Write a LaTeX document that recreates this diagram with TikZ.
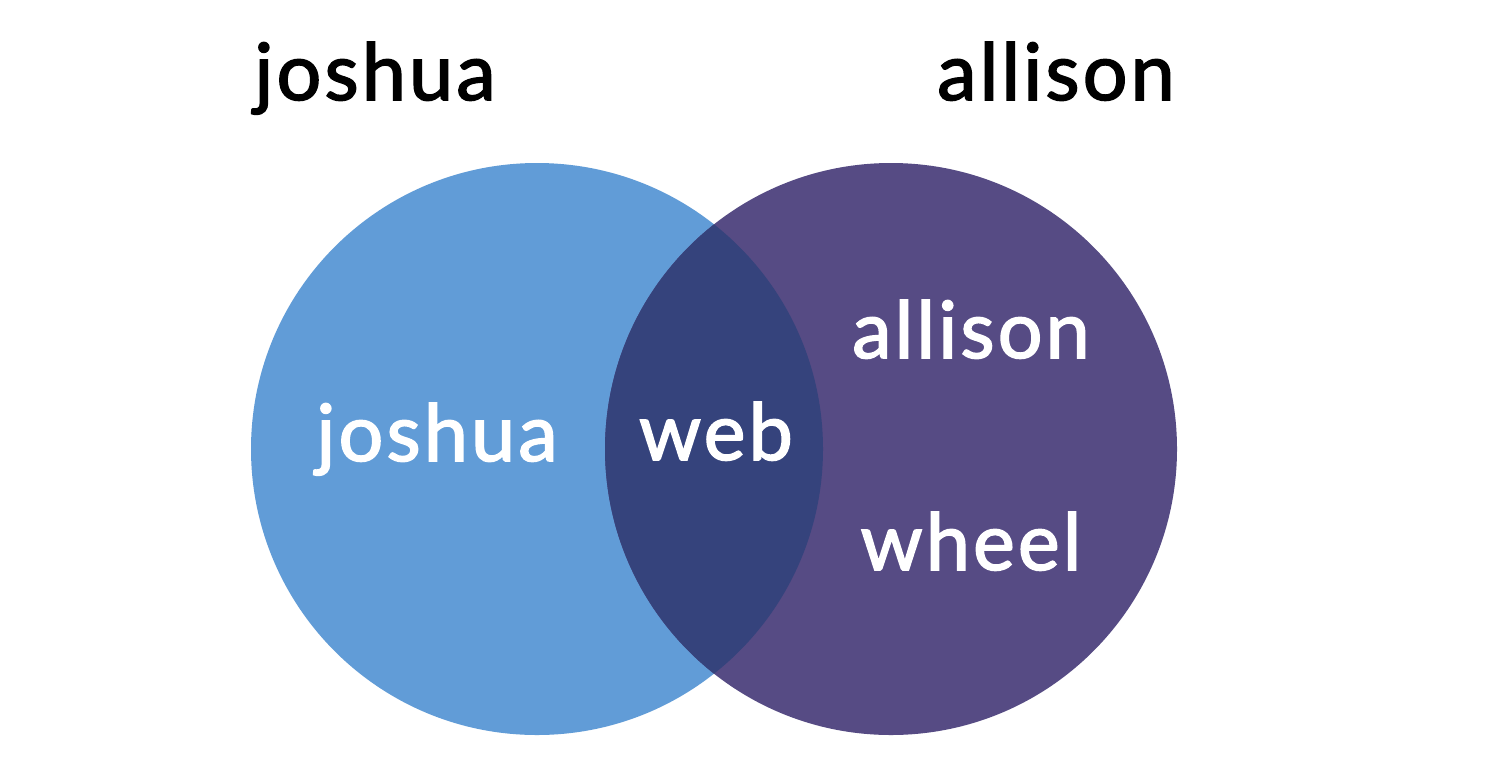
\documentclass[tikz,border=0pt]{standalone}
\usepackage{fontspec}
\setmainfont{Lato}[LetterSpace=4,FakeBold=2]
\definecolor{leftblue}{HTML}{619CD7}
\definecolor{rightpurple}{HTML}{564B84}
\definecolor{overlap}{HTML}{35437C}
\begin{document}
\begin{tikzpicture}[x=1pt,y=-1pt,
  lbl/.style={anchor=base,inner sep=0pt,font=\fontsize{79}{90}\selectfont},
  inlbl/.style={lbl,text=white}]
\useasboundingbox (0,0) rectangle (1501,772);
\fill[white] (0,0) rectangle (1501,772);
\fill[leftblue] (537,449) circle[radius=286];
\fill[rightpurple] (891,449) circle[radius=286];
\begin{scope}
  \clip (537,449) circle[radius=286];
  \fill[overlap] (891,449) circle[radius=286];
\end{scope}
\node[lbl] (tj) at (375,100) {joshua};
\node[lbl] (ta) at (1056,100) {allison};
\node[inlbl] (ij) at (437,461) {joshua};
\node[inlbl] (iw) at (716,460) {web};
\node[inlbl] (ia) at (971,358) {allison};
\node[inlbl] (ih) at (971,570) {wheel};
\end{tikzpicture}
\end{document}
